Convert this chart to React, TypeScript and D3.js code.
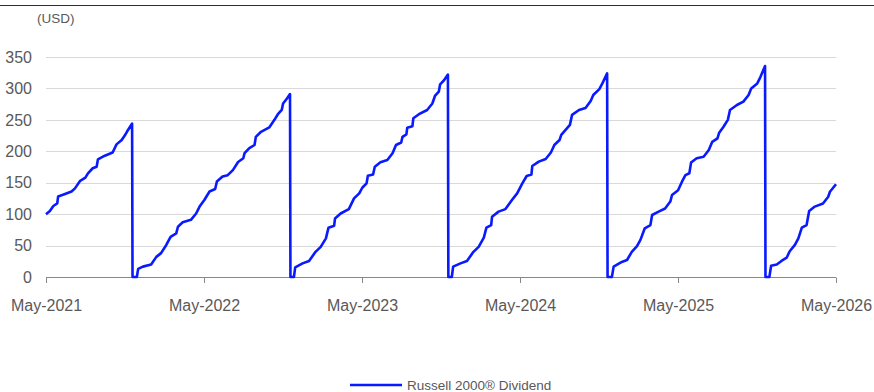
import React from "react";
import * as d3 from "d3";

const seriesName = "Russell 2000® Dividend";
const unitLabel = "(USD)";
const yTicks = [0, 50, 100, 150, 200, 250, 300, 350];
const xTickDates = ["2021-05-01", "2022-05-01", "2023-05-01", "2024-05-01", "2025-05-01", "2026-05-01"];
const xTickLabels = ["May-2021", "May-2022", "May-2023", "May-2024", "May-2025", "May-2026"];

const dividendDates = [
  "2021-05-01","2021-05-10","2021-05-18","2021-05-27","2021-05-29","2021-06-14","2021-06-29","2021-07-07","2021-07-19","2021-07-31",
  "2021-08-06","2021-08-17","2021-08-26","2021-08-29","2021-09-14","2021-10-02","2021-10-11","2021-10-23","2021-10-30","2021-11-04",
  "2021-11-15","2021-11-16","2021-11-17","2021-11-27","2021-11-30","2021-12-11","2021-12-30",
  "2022-01-11","2022-01-22","2022-02-03","2022-02-13","2022-02-26","2022-03-02","2022-03-13","2022-04-01","2022-04-13","2022-04-21",
  "2022-05-02","2022-05-14","2022-05-27","2022-05-31","2022-06-13","2022-06-25","2022-07-07","2022-07-19","2022-07-31","2022-08-03",
  "2022-08-14","2022-08-26","2022-08-29","2022-09-10","2022-09-29","2022-10-11","2022-10-19","2022-10-28","2022-10-31","2022-11-09",
  "2022-11-16","2022-11-17","2022-11-25","2022-11-28","2022-12-15","2022-12-30",
  "2023-01-14","2023-01-26","2023-02-07","2023-02-13","2023-02-26","2023-02-28","2023-03-13","2023-04-01","2023-04-13","2023-04-25",
  "2023-05-02","2023-05-12","2023-05-15","2023-05-27","2023-05-31","2023-06-13","2023-06-29","2023-07-11","2023-07-19","2023-07-31",
  "2023-08-03","2023-08-12","2023-08-14","2023-08-26","2023-08-28","2023-09-10","2023-09-29","2023-10-11","2023-10-17","2023-10-26",
  "2023-10-29","2023-11-07","2023-11-16","2023-11-17","2023-11-25","2023-11-28","2023-12-15","2023-12-30",
  "2024-01-14","2024-01-26","2024-02-07","2024-02-13","2024-02-24","2024-02-26","2024-03-12","2024-03-28","2024-04-12","2024-04-24",
  "2024-05-06","2024-05-16","2024-05-27","2024-05-29","2024-06-13","2024-06-29","2024-07-11","2024-07-19","2024-07-31","2024-08-04",
  "2024-08-14","2024-08-24","2024-08-29","2024-09-14","2024-09-29","2024-10-11","2024-10-17","2024-10-31","2024-11-07","2024-11-18",
  "2024-11-19","2024-11-29","2024-12-03","2024-12-22",
  "2025-01-03","2025-01-14","2025-01-26","2025-02-03","2025-02-13","2025-02-26","2025-03-02","2025-03-17","2025-04-01","2025-04-13",
  "2025-04-17","2025-05-01","2025-05-10","2025-05-18","2025-05-27","2025-05-31","2025-06-13","2025-06-29","2025-07-11","2025-07-19",
  "2025-07-31","2025-08-04","2025-08-14","2025-08-24","2025-08-29","2025-09-14","2025-09-29","2025-10-11","2025-10-17","2025-10-31",
  "2025-11-07","2025-11-18","2025-11-19","2025-11-28","2025-12-02","2025-12-15","2025-12-26",
  "2026-01-07","2026-01-14","2026-01-26","2026-02-03","2026-02-11","2026-02-22","2026-02-28","2026-03-13","2026-04-01","2026-04-13",
  "2026-04-17","2026-05-01",
];

const dividendValues = [
  100,105,113,117,128,132,136,141,153,158,
  165,173,175.5,187,193,198,211,218,225,231,
  243,244,0,0,13,16.5,20,
  32,38,51,64,69.5,80,87,91,101,112,
  122.5,136,140,152,160,162,170,183,189,197,
  205,210,223,231,238,250,259,266,276,284,
  291,0,0,15.4,21.7,25.5,
  40,48,61.5,78.5,81.6,93,101,108,125,133,
  142,149,161,163,175.5,182.5,186,197,210,214,
  223,227,237.6,240,252.5,259,265.7,276,288,295,
  306.6,313,322,0,0,16.5,21.7,25.5,
  40,48,62.6,78.5,82.7,96,104,108,122.5,133,
  149,160.7,163,176.6,183.5,187.7,198,210,218,226,
  234,242,258,265.7,269,280,289.5,299,308,324,
  0,0,16.5,24,
  27,40,49,59,77.5,82.7,98.6,104,109,120,
  130.5,138,151.6,162,165,182,189,191.4,202,215,
  220.6,229.6,239,250,265.7,273.6,279,289.5,300,308,
  317.7,335.7,0,0,18,20,25.5,
  30.7,41,51,61.5,78.5,82.7,105,112,117,127.7,
  135.7,147.5,
];

const W = 874;
const H = 392;
const FONT = "Arial, 'Liberation Sans', Helvetica, sans-serif";
const LINE_COLOR = "#0a1aff";

export default function App() {
  const parse = d3.timeParse("%Y-%m-%d");
  const data = dividendDates.map((d, i) => ({ date: parse(d) as Date, value: dividendValues[i] }));

  const x = d3
    .scaleTime()
    .domain([parse(xTickDates[0]) as Date, parse(xTickDates[xTickDates.length - 1]) as Date])
    .range([46, 836]);
  const y = d3.scaleLinear().domain([0, 350]).range([277, 57]);

  const line = d3
    .line<{ date: Date; value: number }>()
    .x((d) => x(d.date))
    .y((d) => y(d.value))
    .curve(d3.curveLinear);

  return (
    <svg
      width={W}
      height={H}
      style={{ position: "absolute", left: 0, top: 0, background: "#fff" }}
      fontFamily={FONT}
    >
      <line x1={0} x2={W} y1={5.5} y2={5.5} stroke="#1020c8" strokeWidth={1} />
      <text x={37} y={23} fontSize={13.5} fill="#595959">
        {unitLabel}
      </text>

      {yTicks.map((t) => (
        <g key={t}>
          {t !== 0 && (
            <line x1={46} x2={836} y1={Math.round(y(t)) + 0.5} y2={Math.round(y(t)) + 0.5} stroke="#d9d9d9" strokeWidth={1} />
          )}
          <text
            x={32}
            y={y(t)}
            dy="0.36em"
            textAnchor="end"
            fontSize={16}
            fill="#595959"
          >
            {t}
          </text>
        </g>
      ))}

      <line x1={46} x2={836} y1={277.5} y2={277.5} stroke="#888" strokeWidth={1} />
      {xTickDates.map((d, i) => {
        const xp = Math.round(x(parse(d) as Date)) + 0.5;
        return (
          <g key={d}>
            <line x1={xp} x2={xp} y1={277.5} y2={283} stroke="#888" strokeWidth={1} />
            <text x={xp} y={311} textAnchor="middle" fontSize={16} fill="#595959">
              {xTickLabels[i]}
            </text>
          </g>
        );
      })}

      <path d={line(data) || ""} fill="none" stroke={LINE_COLOR} strokeWidth={2.6} strokeLinejoin="round" />

      <line x1={350} x2={402} y1={385} y2={385} stroke={LINE_COLOR} strokeWidth={2.6} />
      <text x={407} y={389.5} fontSize={13.5} fill="#595959">
        {seriesName}
      </text>
    </svg>
  );
}
